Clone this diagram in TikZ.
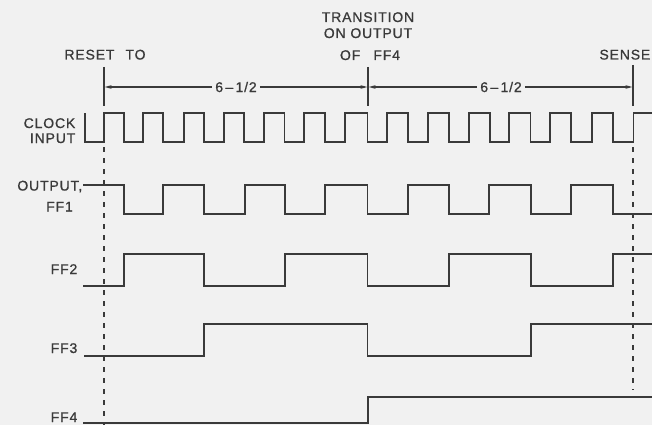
\documentclass[tikz,border=0pt]{standalone}
\usepackage{fontspec}
\setmainfont{Liberation Sans}[LetterSpace=6,FakeBold=0.9]
\usetikzlibrary{arrows.meta}
\definecolor{bg}{RGB}{241,241,241}
\definecolor{ink}{RGB}{58,58,58}
\begin{document}
\begin{tikzpicture}[x=1pt,y=-1pt,
  wave/.style={draw=ink,line width=1.8pt,line join=miter},
  lbl/.style={text=ink,font=\fontsize{14}{15}\selectfont,inner sep=0pt},
  guide/.style={draw=ink,line width=1.2pt},
  guidedash/.style={draw=ink,line width=1.2pt,dash pattern=on 5pt off 6pt},
  dimline/.style={draw=ink,line width=1.1pt},
  tip/.style={-{Stealth[length=7pt,width=3.6pt]}}]
\useasboundingbox (0,0) rectangle (652,425);
\fill[bg] (0,0) rectangle (652,425);

% top labels
\node[lbl,anchor=base] (reset) at (105,59.5) {RESET\hspace{0.45em} TO};
\node[lbl,anchor=base] (tr1) at (368,22) {TRANSITION};
\node[lbl,anchor=base] (tr2) at (368,38) {ON OUTPUT};
\node[lbl,anchor=base] (tr3) at (370,60) {OF\hspace{0.6em} FF4};
\node[lbl,anchor=base east] (sense) at (650.5,59.5) {SENSE};

% left labels
\node[lbl,anchor=base east] (clk1) at (75.5,128) {CLOCK};
\node[lbl,anchor=base east] (clk2) at (75.5,143) {INPUT};
\node[lbl,anchor=base east] (out1) at (82.5,190.5) {OUTPUT,};
\node[lbl,anchor=base east] (ff1) at (73,211.5) {FF1};
\node[lbl,anchor=base east] (ff2) at (77.5,274) {FF2};
\node[lbl,anchor=base east] (ff3) at (77.5,353) {FF3};
\node[lbl,anchor=base east] (ff4) at (77.5,422) {FF4};

% marker lines
\coordinate (rT) at (104,67);  \coordinate (rB) at (104,106);
\coordinate (tT) at (368,67);  \coordinate (tB) at (368,106);
\coordinate (sT) at (633,65);  \coordinate (sB) at (633,106);
\coordinate (rA) at (104,87);  \coordinate (tA) at (368,87);  \coordinate (sA) at (633,87);
\coordinate (rD1) at (104,147); \coordinate (rD2) at (104,425);
\coordinate (sD1) at (633,147); \coordinate (sD2) at (633,390);
\draw[guide] (rT) -- (rB);
\draw[guide] (tT) -- (tB);
\draw[guide] (sT) -- (sB);
\draw[guidedash] (rD1) -- (rD2);
\draw[guidedash] (sD1) -- (sD2);

% dimension labels and arrows
\node[lbl] (d1) at (236,87) {6\,--\,1/2};
\node[lbl] (d2) at (501,87) {6\,--\,1/2};
\draw[dimline,tip] ([xshift=-3pt]d1.west) -- ([xshift=0.6pt]rA);
\draw[dimline,tip] ([xshift=3pt]d1.east) -- ([xshift=-0.6pt]tA);
\draw[dimline,tip] ([xshift=-3pt]d2.west) -- ([xshift=0.6pt]tA);
\draw[dimline,tip] ([xshift=3pt]d2.east) -- ([xshift=-0.6pt]sA);

% clock
\draw[wave] (85,113) -- (85,142) -| (104,113) -| (124,142) -| (143,113) -| (163,142)
  -| (184,113) -| (204,142) -| (224,113) -| (244,142) -| (264,113) -| (284.5,142)
  -| (304,113) -| (325,142) -| (345,113) -| (367.5,142) -| (387,113) -| (408,142)
  -| (428,113) -| (449,142) -| (469,113) -| (490,142) -| (509,113) -| (530.5,142)
  -| (550,113) -| (571,142) -| (592,113) -| (613,142) -| (633.5,113) -- (654,113);

% FF1
\draw[wave] (83,185) -| (124,214) -| (163,185) -| (204,214) -| (245,185) -| (285,214)
  -| (325,185) -| (367.5,214) -| (408,185) -| (449,214) -| (489,185) -| (531,214)
  -| (571,185) -| (613,214) -- (654,214);

% FF2
\draw[wave] (83,286) -| (124,254) -| (204,286) -| (285,254) -| (367.5,286) -| (449,254)
  -| (531,286) -| (613,254) -- (654,254);

% FF3
\draw[wave] (84,356) -| (204,324) -| (367.5,356) -| (531,324) -- (654,324);

% FF4
\draw[wave] (83,423) -| (368,397) -- (654,397);
\end{tikzpicture}
\end{document}
